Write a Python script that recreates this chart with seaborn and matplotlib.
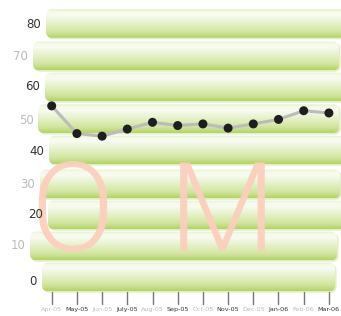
import numpy as np
import pandas as pd
import matplotlib
matplotlib.use("Agg")
import matplotlib.pyplot as plt
import seaborn as sns
from matplotlib.patches import FancyBboxPatch
from matplotlib.colors import LinearSegmentedColormap

# ===============================
# data
# ===============================
months = ["Apr-05", "May-05", "Jun-05", "July-05", "Aug-05", "Sep-05",
          "Oct-05", "Nov-05", "Dec-05", "Jan-06", "Feb-06", "Mar-06"]
values = [54.6, 46.0, 45.2, 47.4, 49.5, 48.5, 49.0, 47.7, 49.0, 50.4, 53.1, 52.4]
y_ticks = [80, 70, 60, 50, 40, 30, 20, 10, 0]
watermark = ["O", "M"]

df = pd.DataFrame({"idx": np.arange(len(months)), "value": values})

# ===============================
# layout helpers (pixel -> data)
# ===============================
W, H = 341, 316
X0, DX = 51.7, 25.2     # px of first month, px per month
Y0, DY = 281.7, 3.22    # px of value 0, px per unit

def dx(px):
    return (px - X0) / DX

def dy(py):
    return (Y0 - py) / DY

sns.set_style("white")
fig = plt.figure(figsize=(W / 100, H / 100), dpi=100)
ax = fig.add_axes([0, 0, 1, 1])
ax.set_xlim(dx(0), dx(W))
ax.set_ylim(dy(H), dy(0))
ax.axis("off")

# ===============================
# green bands behind each tick
# ===============================
band_left = [46, 33, 45, 38, 49, 40, 48, 30, 42]
band_right = [345, 339, 345, 339, 345, 340, 345, 337, 335]
band_center = [23.5, 56, 87, 118.7, 150, 184, 215, 246, 277]
band_h = 28.5

cmap = LinearSegmentedColormap.from_list("band", [
    (0.0, "#e0edc0"), (0.08, "#f6faeb"), (0.22, "#f8fbf0"),
    (0.55, "#e2efc2"), (0.82, "#cfe49a"), (1.0, "#b3d365")])
grad = np.linspace(0, 1, 64).reshape(-1, 1)
aspect = DX / DY

for l, r, c in zip(band_left, band_right, band_center):
    x, w = dx(l), (r - l) / DX
    y, h = dy(c + band_h / 2), band_h / DY
    shadow = FancyBboxPatch((x + 1.5 / DX, y - 1.5 / DY), w, h,
                            boxstyle="round,pad=0,rounding_size=%f" % (6 / DX),
                            mutation_aspect=aspect, fc="#cfe3a0", ec="none",
                            alpha=0.6, zorder=1)
    ax.add_patch(shadow)
    box = FancyBboxPatch((x, y), w, h,
                         boxstyle="round,pad=0,rounding_size=%f" % (6 / DX),
                         mutation_aspect=aspect, fc="none", ec="none", zorder=2)
    ax.add_patch(box)
    im = ax.imshow(grad, cmap=cmap, aspect="auto", extent=(x, x + w, y, y + h),
                   origin="upper", zorder=2, interpolation="bilinear")
    im.set_clip_path(box)

ax.set_xlim(dx(0), dx(W))
ax.set_ylim(dy(H), dy(0))

# ===============================
# y labels (staggered)
# ===============================
lab_right = [40.7, 28.3, 40, 34, 44, 35, 43, 26, 37]
lab_center = [24.3, 56, 86.7, 120.7, 151.7, 185, 214, 245.7, 281.7]
for k, (t, r, c) in enumerate(zip(y_ticks, lab_right, lab_center)):
    col = "#333333" if k % 2 == 0 else "#bbbbbb"
    ax.text(dx(r), dy(c), str(t), ha="right", va="center", fontsize=8.5,
            color=col, zorder=5)

# ===============================
# watermark
# ===============================
for ch, cx in zip(watermark, [72.5, 222.5]):
    ax.text(dx(cx), dy(251), ch, ha="center", va="baseline",
            fontsize=89, color="#fbcfbd", alpha=0.95, zorder=3,
            family=["Roboto", "DejaVu Sans"], fontweight=300)

# ===============================
# line + markers
# ===============================
sns.lineplot(data=df, x="idx", y="value", ax=ax, color="#bbbbbb", lw=2.2,
             zorder=6, legend=False)
sns.scatterplot(data=df, x="idx", y="value", ax=ax, color="#1e1e1e", s=42,
                edgecolor="none", zorder=7, legend=False)

# ===============================
# x ticks and labels
# ===============================
for i, m in enumerate(months):
    ax.plot([i, i], [dy(292), dy(304)], color="#777777", lw=1, zorder=5)
    col = "#bbbbbb" if i % 2 == 0 else "#333333"
    ax.text(i, dy(309.5), m, ha="center", va="center", fontsize=4.6,
            color=col, zorder=5)

ax.set_xlim(dx(0), dx(W))
ax.set_ylim(dy(H), dy(0))
ax.axis("off")
fig.savefig("out.png", dpi=100)
